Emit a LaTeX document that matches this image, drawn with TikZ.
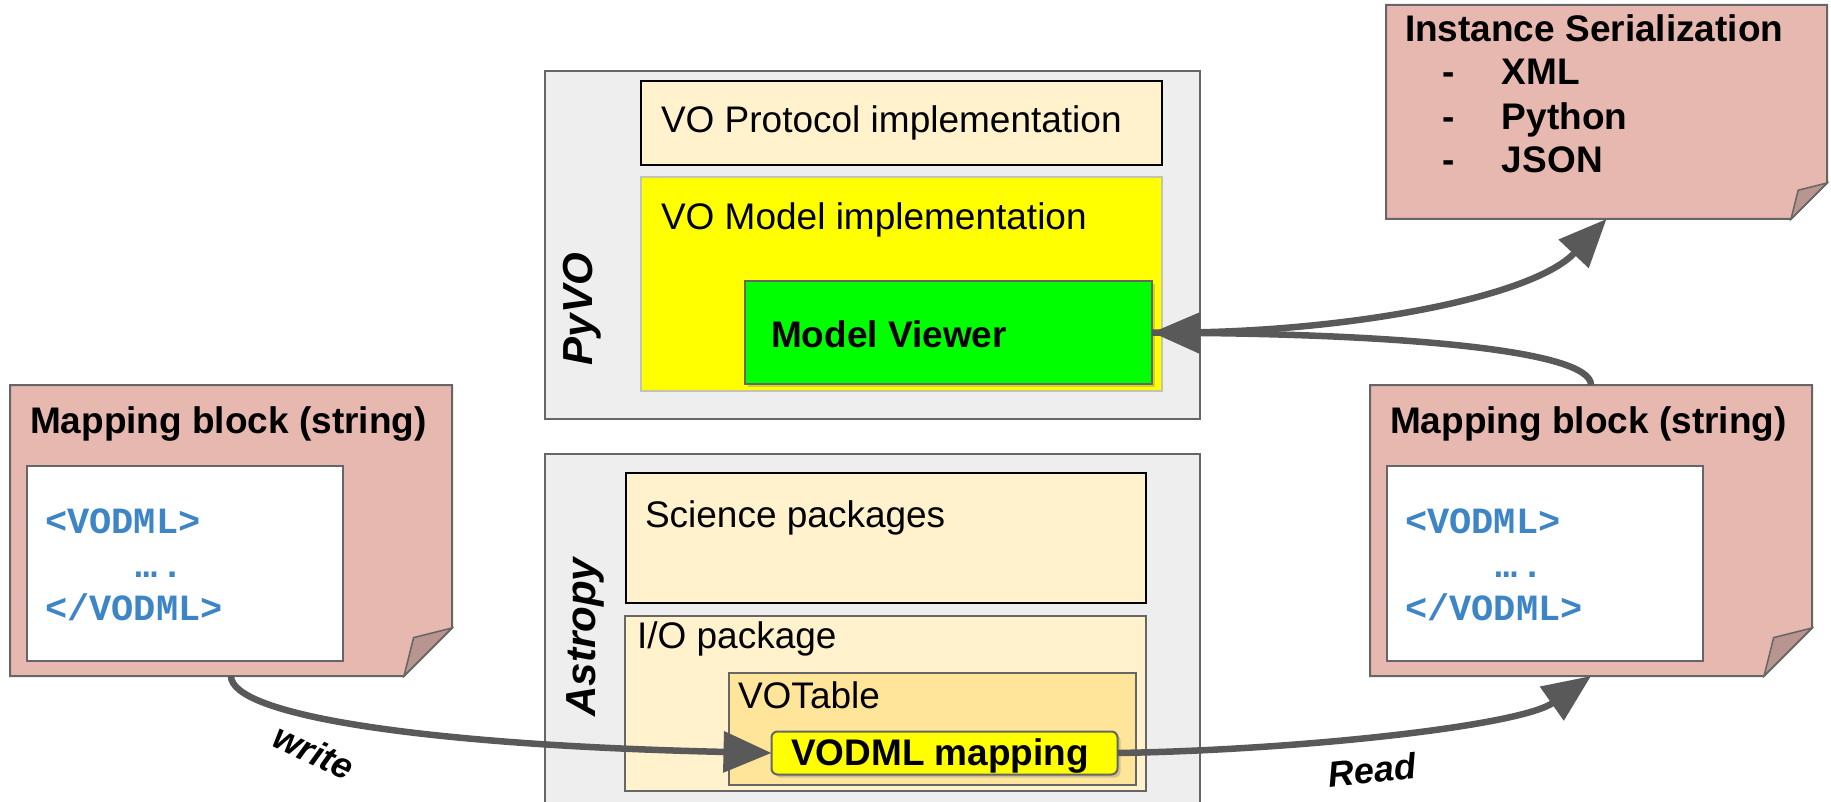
\documentclass[tikz,border=0pt]{standalone}
\usepackage{fontspec}
\setmainfont{Liberation Sans}
\setmonofont{Liberation Mono}
\usetikzlibrary{arrows.meta,shadows,calc}
\definecolor{pinkc}{HTML}{E6B8AF}
\definecolor{foldc}{HTML}{B8958F}
\definecolor{edgec}{HTML}{666666}
\definecolor{arrc}{HTML}{595959}
\definecolor{panelc}{HTML}{EEEEEE}
\definecolor{creamc}{HTML}{FFF2CC}
\definecolor{votc}{HTML}{FFE599}
\definecolor{codec}{HTML}{3D85C6}
\definecolor{yelc}{HTML}{FFFF00}
\definecolor{grnc}{HTML}{00FF00}
\definecolor{yedge}{HTML}{C4C4B0}
% name, style, x1, y1, x2, y2
\newcommand{\rbox}[6]{\node[#2, inner sep=0pt, outer sep=0pt, minimum width={(#5)-(#3)}, minimum height={(#6)-(#4)}] (#1) at ({((#3)+(#5))/2},{((#4)+(#6))/2}) {};}
% name, x1, y1, x2, y2, fold
\newcommand{\notebox}[6]{%
  \fill[pinkc] (#2,#3) -- (#4,#3) -- (#4,{#5-#6}) -- ({#4-#6},#5) -- (#2,#5) -- cycle;
  \draw[edgec,line width=2pt,line join=miter] (#2,#3) -- (#4,#3) -- (#4,{#5-#6}) -- ({#4-#6},#5) -- (#2,#5) -- cycle;
  \filldraw[fill=foldc,draw=edgec,line width=1.5pt] (#4,{#5-#6}) -- ({#4-0.8*#6},{#5-0.8*#6}) -- ({#4-#6},#5) -- cycle;
  \rbox{#1}{}{#2}{#3}{#4}{#5}}
\tikzset{
  txt/.style={inner sep=0pt, outer sep=0pt, anchor=base west, font=\fontsize{37}{44}\selectfont},
  btxt/.style={txt, font=\fontsize{37}{44}\selectfont\bfseries},
  code/.style={inner sep=0pt, outer sep=0pt, anchor=base west, text=codec, font=\fontsize{37}{44}\selectfont\ttfamily\bfseries},
  side/.style={inner sep=0pt, rotate=90, font=\fontsize{42}{50}\selectfont\bfseries\itshape},
  elabel/.style={inner sep=0pt, font=\fontsize{36}{42}\selectfont\bfseries\itshape},
  conn/.style={draw=arrc, line width=6.5pt, -{Triangle[length=48pt,width=40pt]}},
  panel/.style={draw=edgec, fill=panelc, line width=2pt},
  cream/.style={draw=black, fill=creamc, line width=2.5pt},
  creamg/.style={draw=edgec, fill=creamc, line width=2pt},
}
\begin{document}
\begin{tikzpicture}[x=1pt,y=-1pt]
\useasboundingbox (0,0) rectangle (1831,802);
% note boxes
\notebox{mapL}{10}{385}{452}{676}{48}
\notebox{mapR}{1370}{385}{1812}{676}{48}
\notebox{inst}{1386}{5}{1827}{219}{36}
\rbox{codeL}{draw=edgec,fill=white,line width=2pt}{27}{466}{343}{661}
\rbox{codeR}{draw=edgec,fill=white,line width=2pt}{1387}{466}{1703}{661}
\node[btxt] (tL) at (30,433) {Mapping block (string)};
\node[code] (cL1) at (45,533) {<VODML>};
\node[code] (cL2) at (135,577) {…\kern4pt.};
\node[code] (cL3) at (45,620) {</VODML>};
\node[btxt] (tR) at (1390,433) {Mapping block (string)};
\node[code] (cR1) at (1405,533) {<VODML>};
\node[code] (cR2) at (1495,577) {…\kern4pt.};
\node[code] (cR3) at (1405,620) {</VODML>};
\node[btxt] (tI) at (1405,42) {Instance Serialization};
\node[btxt] (i1) at (1442,85) {\makebox[60pt][l]{-}XML};
\node[btxt] (i2) at (1442,130) {\makebox[60pt][l]{-}Python};
\node[btxt] (i3) at (1442,173) {\makebox[60pt][l]{-}JSON};
% PyVO
\rbox{pyvo}{panel}{545}{71}{1200}{419}
\rbox{proto}{cream}{641}{81}{1162}{165}
\rbox{model}{draw=yedge,fill=yelc,line width=1.5pt}{641}{177}{1162}{391}
\rbox{mv}{draw=edgec,fill=grnc,line width=2pt,drop shadow={shadow xshift=3pt,shadow yshift=-3pt,opacity=0.35}}{745}{281}{1152}{384}
\node[txt] (tproto) at (661,133) {VO Protocol implementation};
\node[txt] (tmodel) at (661,230) {VO Model implementation};
\node[btxt] (tmv) at (771,347) {Model Viewer};
\node[side] (lpyvo) at (582,309) {PyVO};
% Astropy
\rbox{astropy}{panel}{545}{454}{1200}{815}
\rbox{sci}{cream}{626}{473}{1146}{603}
\rbox{io}{creamg}{625}{616}{1146}{791}
\rbox{votable}{draw=edgec,fill=votc,line width=2pt}{729}{673}{1136}{785}
\node[draw=edgec,fill=yelc,line width=2pt,rounded corners=6pt,inner sep=0pt,outer sep=0pt,minimum width=346pt,minimum height=43pt,drop shadow={shadow xshift=3pt,shadow yshift=-3pt,opacity=0.35}] (vodml) at (944.5,753) {};
\node[txt] (tsci) at (645,527) {Science packages};
\node[txt] (tio) at (637,648) {I/O package};
\node[txt] (tvot) at (738,708) {VOTable};
\node[btxt] (tvodml) at (791,765) {VODML mapping};
\node[side] (lastro) at (585,637) {Astropy};
% connectors
\draw[conn] (mapL.south) .. controls (231,715) and (420,745) .. (vodml.west);
\draw[conn] (vodml.east) .. controls (1300,750) and (1520,726) .. (mapR.south);
\draw[conn] (mv.east) .. controls (1330,335) and (1530,300) .. (inst.south);
\draw[conn] (mapR.north) .. controls (1591,350) and (1400,335) .. (mv.east);
\node[elabel,rotate=-25] (lwrite) at (314,752) {write};
\node[elabel,rotate=6] (lread) at (1372,770) {Read};
\end{tikzpicture}
\end{document}
